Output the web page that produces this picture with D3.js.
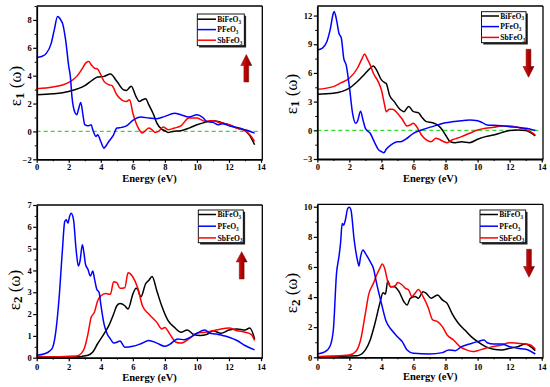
<!DOCTYPE html>
<html><head><meta charset="utf-8">
<script src="https://cdn.jsdelivr.net/npm/d3@7/dist/d3.min.js"></script>
<style>
html,body{margin:0;padding:0;background:#fff;}
svg text{font-family:"Liberation Serif","Times New Roman",serif;}
</style>
</head><body>
<svg id="chart" width="550" height="387"></svg>
<script>
// ---------- DATA ----------
const seriesNames = ["BiFeO", "PFeO", "SbFeO"];
const seriesColors = ["#000000", "#0000ff", "#ff0000"];
const energyTicks = [0, 2, 4, 6, 8, 10, 12, 14];

// Panel 1: eps1 (up arrow)
const eps1UpBi = [[0,2.63],[1,2.7],[2,2.87],[3,3.28],[3.5,3.7],[3.8,3.9],[4.2,3.95],[4.6,4.12],[5,3.6],[5.4,3.0],[5.6,2.94],[5.9,3.25],[6.2,2.5],[6.4,2.15],[6.6,2.27],[6.8,2.35],[7.0,1.9],[7.3,1.2],[7.5,0.6],[7.8,0.17],[8.0,0.05],[8.2,-0.07],[8.5,0],[9,0.05],[9.5,0.24],[10,0.48],[10.5,0.65],[11,0.77],[11.5,0.65],[12,0.48],[12.5,0.24],[13,0.05],[13.3,-0.3],[13.6,-0.96]];
const eps1UpP = [[0,5.31],[0.3,5.38],[0.6,5.6],[0.9,6.3],[1.1,7.3],[1.3,8.25],[1.45,8.1],[1.55,7.9],[1.6,7.8],[1.8,6.6],[2.0,4.67],[2.1,3.95],[2.2,2.5],[2.4,1.32],[2.5,1.2],[2.6,1.55],[2.75,2.08],[2.9,1.08],[3.0,0.48],[3.2,0.4],[3.4,0.48],[3.5,0.12],[3.7,-0.36],[3.8,-0.24],[4.0,-0.72],[4.2,-1.2],[4.3,-1.08],[4.5,-0.72],[4.8,-0.24],[5.0,0.24],[5.3,0.29],[5.6,0.4],[6.0,0.79],[6.5,1.03],[7,0.96],[7.5,0.91],[8,1.08],[8.6,1.3],[9,1.2],[9.5,1.03],[10,1.2],[10.4,0.96],[10.6,0.72],[11,0.65],[11.3,0.48],[11.6,0.55],[12,0.4],[12.5,0.29],[13,0.12],[13.6,-0.12]];
const eps1UpSb = [[0,3.06],[1,3.18],[2,3.52],[2.5,3.95],[2.8,4.43],[3.1,4.95],[3.25,5.02],[3.4,4.78],[3.6,4.55],[3.8,4.47],[4.0,4.07],[4.2,3.59],[4.5,3.35],[4.7,3.28],[5.0,2.63],[5.3,2.27],[5.6,2.15],[5.8,2.27],[6.0,1.32],[6.2,0.6],[6.4,0.12],[6.6,-0.12],[6.8,0.07],[7.0,0.24],[7.2,0.12],[7.4,-0.07],[7.6,0],[7.9,0.31],[8.2,0.12],[8.6,0.24],[9.0,0.4],[9.5,0.96],[10,0.96],[10.5,0.72],[11,0.77],[11.5,0.6],[12,0.48],[12.5,0.24],[13,0.05],[13.3,-0.24],[13.6,-0.72]];

// Panel 2: eps1 (down arrow)
const eps1DownBi = [[0,3.77],[1,3.87],[2,4.4],[2.5,5.1],[3,5.96],[3.3,6.49],[3.5,6.73],[3.7,6.3],[4.0,5.27],[4.2,4.99],[4.3,4.9],[4.5,3.7],[4.8,3.0],[5.2,2.13],[5.4,1.95],[5.7,2.5],[6.0,1.95],[6.3,1.85],[6.5,1.43],[6.8,0.91],[7.2,0.8],[7.5,0.56],[7.8,0.03],[8.0,-0.49],[8.3,-1.19],[8.6,-1.29],[9,-1.19],[9.5,-1.29],[10,-0.94],[10.5,-0.66],[11,-0.49],[11.5,-0.24],[12,-0.03],[12.5,0.03],[13,-0.03],[13.3,-0.24],[13.6,-0.59]];
const eps1DownP = [[0,8.41],[0.3,8.58],[0.6,9.28],[0.8,10.5],[1.0,12.24],[1.05,12.42],[1.2,11.55],[1.35,10.15],[1.5,9.63],[1.65,7.53],[1.8,6.84],[2.0,4.57],[2.2,1.78],[2.4,0.73],[2.5,0.91],[2.7,2.0],[2.85,1.08],[3.0,0.21],[3.3,-0.31],[3.6,-1.36],[3.8,-1.99],[4.0,-2.23],[4.15,-2.34],[4.3,-1.99],[4.6,-1.53],[5.0,-1.19],[5.2,-1.19],[5.5,-0.94],[6.0,-0.31],[6.5,0.03],[7,0.31],[7.5,0.56],[8,0.8],[8.5,0.91],[9,1.01],[9.5,1.08],[10,1.01],[10.3,0.8],[10.6,0.56],[11,0.52],[11.5,0.49],[12,0.38],[12.5,0.31],[13,0.21],[13.6,-0.03]];
const eps1DownSb = [[0,4.29],[1,4.57],[1.5,4.99],[2.0,5.44],[2.5,6.49],[2.8,7.53],[2.95,7.99],[3.1,7.53],[3.3,6.84],[3.5,5.96],[3.8,5.09],[4.0,4.22],[4.2,2.65],[4.3,1.95],[4.5,2.2],[4.7,2.2],[5.0,1.78],[5.3,1.15],[5.6,0.45],[5.8,0.56],[6.0,0.73],[6.2,0.38],[6.5,-0.49],[6.8,-1.01],[7.1,-1.19],[7.4,-0.84],[7.6,-0.94],[7.9,-1.19],[8.1,-1.29],[8.4,-1.01],[8.7,-0.84],[9.0,-0.66],[9.5,-0.31],[10,0.03],[10.5,0.21],[11,0.31],[11.5,0.45],[12,0.45],[12.5,0.31],[13,0.1],[13.3,-0.14],[13.6,-0.49]];

// Panel 3: eps2 (up arrow)
const eps2UpBi = [[0,0.03],[2,0.03],[2.8,0.06],[3.2,0.11],[3.5,0.26],[3.8,0.64],[4.2,1.09],[4.5,1.47],[4.8,2.0],[5.0,2.38],[5.2,2.48],[5.5,2.38],[5.7,2.23],[6.0,2.91],[6.2,3.18],[6.3,3.14],[6.5,2.79],[6.8,3.39],[7.0,3.55],[7.2,3.72],[7.5,3.06],[7.8,2.38],[8.2,1.7],[8.6,1.39],[9.0,1.17],[9.4,1.27],[9.8,1.06],[10.2,1.02],[10.6,1.06],[11,1.24],[11.5,1.12],[12,1.27],[12.5,1.32],[13,1.27],[13.3,1.36],[13.6,0.86]];
const eps2UpP = [[0,0.11],[0.5,0.18],[0.8,0.3],[1.0,0.48],[1.2,1.24],[1.4,2.76],[1.6,4.88],[1.75,6.24],[1.85,6.32],[1.95,6.17],[2.05,6.47],[2.15,6.62],[2.3,6.32],[2.45,5.03],[2.6,4.2],[2.7,4.42],[2.85,5.18],[2.95,4.8],[3.05,4.27],[3.2,4.05],[3.35,3.74],[3.5,3.97],[3.6,3.64],[3.75,3.14],[3.9,2.98],[4.0,2.45],[4.2,1.55],[4.4,1.09],[4.6,0.86],[4.8,0.67],[5.0,0.71],[5.2,0.76],[5.5,0.48],[6,0.52],[6.5,0.64],[7,0.79],[7.5,0.67],[8,0.52],[8.3,0.61],[8.8,0.86],[9.2,0.82],[9.6,0.94],[10,1.12],[10.5,1.27],[10.8,1.12],[11.2,1.09],[11.6,1.02],[12,0.94],[12.5,0.79],[13,0.56],[13.6,0.36]];
const eps2UpSb = [[0,0.03],[2.5,0.08],[2.8,0.21],[3.0,0.48],[3.2,1.09],[3.4,1.85],[3.6,2.08],[3.8,2.6],[4.0,2.83],[4.3,2.94],[4.6,2.91],[4.8,3.48],[5.0,3.44],[5.2,3.18],[5.5,3.21],[5.7,3.89],[6.0,3.7],[6.3,3.21],[6.6,2.38],[7.0,2.0],[7.5,1.62],[7.8,1.32],[8.0,1.39],[8.3,1.09],[8.7,0.71],[9.0,0.67],[9.5,0.86],[10,1.12],[10.5,1.17],[11,1.24],[11.5,1.32],[12,1.36],[12.5,1.24],[13,1.17],[13.4,1.06],[13.6,0.79]];

// Panel 4: eps2 (down arrow)
const eps2DownBi = [[0,0.04],[2.5,0.11],[3.0,0.49],[3.3,1.15],[3.6,2.26],[3.9,3.58],[4.1,4.29],[4.25,4.2],[4.4,5.09],[4.55,4.69],[4.8,4.69],[5.1,4.36],[5.4,3.69],[5.6,3.47],[5.8,3.92],[6.1,4.03],[6.3,3.92],[6.6,4.36],[6.8,4.25],[7.1,3.92],[7.5,4.14],[7.8,3.81],[8.1,3.58],[8.4,2.92],[8.8,2.26],[9.2,1.81],[9.6,1.37],[10,1.04],[10.5,0.71],[11,0.53],[11.5,0.49],[12,0.6],[12.5,0.71],[13,0.88],[13.3,0.71],[13.6,0.44]];
const eps2DownP = [[0,0.22],[0.5,0.38],[0.8,0.75],[1.0,1.81],[1.2,5.58],[1.35,6.68],[1.45,7.57],[1.55,8.89],[1.65,8.78],[1.75,9.12],[1.9,9.89],[2.0,9.96],[2.1,9.78],[2.3,7.79],[2.5,6.46],[2.6,6.06],[2.7,6.68],[2.85,7.12],[3.0,6.9],[3.3,6.35],[3.5,5.91],[3.7,4.91],[4.0,3.58],[4.3,2.37],[4.6,1.86],[4.9,1.48],[5.1,1.26],[5.3,1.04],[5.6,0.49],[6,0.27],[7,0.22],[7.8,0.31],[8.2,0.49],[8.6,0.44],[9,0.71],[9.5,0.88],[10,1.04],[10.4,1.15],[10.6,0.97],[11,0.88],[11.5,0.88],[12,0.71],[12.5,0.6],[13,0.53],[13.6,0.22]];
const eps2DownSb = [[0,0.04],[2.0,0.15],[2.4,0.38],[2.7,1.15],[3.0,2.92],[3.2,4.14],[3.5,4.91],[3.7,5.46],[3.9,5.91],[4.05,6.19],[4.2,5.91],[4.4,5.02],[4.6,4.69],[4.9,4.8],[5.0,4.96],[5.3,4.8],[5.5,4.58],[5.7,4.47],[5.9,4.03],[6.1,4.25],[6.3,4.51],[6.6,4.03],[6.9,3.36],[7.2,2.48],[7.5,2.37],[7.8,2.04],[8.1,1.48],[8.5,1.15],[8.9,0.71],[9.3,0.49],[9.7,0.38],[10,0.44],[10.5,0.6],[11,0.71],[11.5,0.82],[12,0.97],[12.5,0.93],[13,0.88],[13.3,0.82],[13.6,0.53]];

const yTicks1 = [-2, 0, 2, 4, 6, 8];
const yTicks2 = [-3, 0, 3, 6, 9, 12];
const yTicks3 = [0, 1, 2, 3, 4, 5, 6, 7];
const yTicks4 = [0, 2, 4, 6, 8, 10];

// ---------- LAYOUT ----------
const panels = [
  {series:[eps1UpBi, eps1UpP, eps1UpSb], yDomain:[-2, 9], yTicks:yTicks1, yMinorStep:1,
   x0:36.7, x1:262.3, y0:6, y1:159.3, sub:"1", labelX:17, labelY:86, zero:true,
   arrow:{dir:"up", cx:246.3, top:54.5, headBase:65.5, bottom:82},
   legend:{x:197.3, y:14, w:47, h:31.7, rows:[19.2,29.6,40.2], lineEnd:216, textX:217.3},
   xLabelY:182, xTickY:170},
  {series:[eps1DownBi, eps1DownP, eps1DownSb], yDomain:[-3, 13], yTicks:yTicks2, yMinorStep:1.5,
   x0:317.3, x1:543, y0:6, y1:159, sub:"1", labelX:292.5, labelY:94, zero:true,
   arrow:{dir:"down", cx:528.5, top:49.3, headBase:66.5, bottom:77.3},
   legend:{x:481.5, y:11.7, w:44.5, h:31, rows:[16,26.6,37.4], lineEnd:499, textX:500.3},
   xLabelY:182, xTickY:170},
  {series:[eps2UpBi, eps2UpP, eps2UpSb], yDomain:[0, 7], yTicks:yTicks3, yMinorStep:0.5,
   x0:36.7, x1:262.3, y0:205, y1:357.7, sub:"2", labelX:15.5, labelY:290, zero:false,
   arrow:{dir:"up", cx:241.7, top:251.7, headBase:262, bottom:279},
   legend:{x:198.3, y:210, w:45, h:32.7, rows:[214.5,226.2,237.9], lineEnd:216, textX:217.5},
   xLabelY:381, xTickY:369.5},
  {series:[eps2DownBi, eps2DownP, eps2DownSb], yDomain:[0, 10.16], yTicks:yTicks4, yMinorStep:1,
   x0:317.3, x1:543, y0:204.3, y1:357.3, sub:"2", labelX:293, labelY:293, zero:false,
   arrow:{dir:"down", cx:529, top:249.3, headBase:266.5, bottom:277.3},
   legend:{x:480, y:210, w:45.7, h:32.7, rows:[214.5,226.2,237.9], lineEnd:498, textX:499.3},
   xLabelY:380, xTickY:369.5}
];

const svg = d3.select("#chart");
const defs = svg.append("defs");
const grad = defs.append("linearGradient").attr("id","arrowGrad")
  .attr("x1","0%").attr("x2","100%").attr("y1","0%").attr("y2","0%");
grad.append("stop").attr("offset","0%").attr("stop-color","#e01818");
grad.append("stop").attr("offset","55%").attr("stop-color","#b00000");
grad.append("stop").attr("offset","100%").attr("stop-color","#6a0000");

panels.forEach(p => {
  const x = d3.scaleLinear().domain([0, 14.08]).range([p.x0, p.x1]);
  const y = d3.scaleLinear().domain(p.yDomain).range([p.y1, p.y0]);
  const g = svg.append("g");

  // frame top/right
  g.append("line").attr("x1", p.x0).attr("x2", p.x1).attr("y1", p.y0).attr("y2", p.y0)
    .attr("stroke","#000").attr("stroke-width",1.3);
  g.append("line").attr("x1", p.x1).attr("x2", p.x1).attr("y1", p.y0).attr("y2", p.y1)
    .attr("stroke","#000").attr("stroke-width",1.3);

  // zero line
  if (p.zero) {
    g.append("line").attr("x1", x(0)).attr("x2", x(13.8)).attr("y1", y(0)).attr("y2", y(0))
      .attr("stroke","#33dd33").attr("stroke-width",1.2).attr("stroke-dasharray","4,3");
  }

  // data lines
  const line = d3.line().x(d => x(d[0])).y(d => y(d[1])).curve(d3.curveMonotoneX);
  const order = [0, 2, 1];
  order.forEach(i => {
    g.append("path").datum(p.series[i]).attr("d", line)
      .attr("fill","none").attr("stroke", seriesColors[i]).attr("stroke-width",1.5)
      .attr("stroke-linejoin","round");
  });

  // x axis minor
  const xMinor = d3.range(1, 14, 2);
  g.append("g").attr("transform",`translate(0,${p.y1})`)
    .call(d3.axisBottom(x).tickValues(xMinor).tickSize(2).tickFormat(""))
    .call(a => a.select(".domain").remove())
    .selectAll("line").attr("stroke-width",1);
  // x axis major
  const xa = g.append("g").attr("transform",`translate(0,${p.y1})`)
    .call(d3.axisBottom(x).tickValues(energyTicks).tickSize(3.5).tickSizeOuter(0).tickFormat(d3.format("d")));
  xa.select(".domain").attr("stroke-width",1.8);
  xa.selectAll(".tick line").attr("stroke-width",1.2);
  xa.selectAll("text").attr("font-size","8.5px").attr("font-weight","bold")
    .attr("font-family","Liberation Serif, serif").attr("y", null).attr("dy", null)
    .attr("transform", `translate(0,${p.xTickY - p.y1})`);

  // y axis minor
  const yMinor = [];
  for (let v = p.yTicks[0]; v <= p.yDomain[1] + 1e-9; v += p.yMinorStep) {
    if (!p.yTicks.some(t => Math.abs(t - v) < 1e-9)) yMinor.push(v);
  }
  g.append("g").attr("transform",`translate(${p.x0},0)`)
    .call(d3.axisLeft(y).tickValues(yMinor).tickSize(2).tickFormat(""))
    .call(a => a.select(".domain").remove())
    .selectAll("line").attr("stroke-width",1);
  const ya = g.append("g").attr("transform",`translate(${p.x0},0)`)
    .call(d3.axisLeft(y).tickValues(p.yTicks).tickSize(3.5).tickSizeOuter(0).tickFormat(d3.format("d")));
  ya.select(".domain").attr("stroke-width",1.8);
  ya.selectAll(".tick line").attr("stroke-width",1.2);
  ya.selectAll("text").attr("font-size","8.5px").attr("font-weight","bold")
    .attr("font-family","Liberation Serif, serif").attr("x", -5);

  // x label
  g.append("text").attr("x", (p.x0 + p.x1) / 2).attr("y", p.xLabelY)
    .attr("text-anchor","middle").attr("font-size","10.5px").attr("font-weight","bold")
    .text("Energy (eV)");

  // y label
  const yl = g.append("text").attr("transform",`translate(${p.labelX},${p.labelY}) rotate(-90)`)
    .attr("text-anchor","middle").attr("dominant-baseline","middle").attr("font-size","17px");
  yl.append("tspan").text("ε");
  yl.append("tspan").attr("font-size","13px").attr("font-weight","bold").attr("dy","3.5").text(p.sub);
  yl.append("tspan").attr("dy","-3.5").text(" (ω)");

  // legend
  const L = p.legend;
  g.append("rect").attr("x", L.x + 1.8).attr("y", L.y + 1.8).attr("width", L.w).attr("height", L.h)
    .attr("fill","#222");
  g.append("rect").attr("x", L.x).attr("y", L.y).attr("width", L.w).attr("height", L.h)
    .attr("fill","#fff").attr("stroke","#000").attr("stroke-width",0.9);
  seriesNames.forEach((name, i) => {
    g.append("line").attr("x1", L.x).attr("x2", L.lineEnd).attr("y1", L.rows[i]).attr("y2", L.rows[i])
      .attr("stroke", seriesColors[i]).attr("stroke-width",1.5);
    const t = g.append("text").attr("x", L.textX).attr("y", L.rows[i] + 2.7)
      .attr("font-size","7.6px").attr("font-weight","bold");
    t.append("tspan").text(name);
    t.append("tspan").attr("font-size","5.2px").attr("dy","1.7").text("3");
  });

  // arrow
  const A = p.arrow, hw = 5.5, sw = 2.4;
  let pts;
  if (A.dir === "up") {
    pts = [[A.cx, A.top],[A.cx+hw, A.headBase],[A.cx+sw, A.headBase],[A.cx+sw, A.bottom],
           [A.cx-sw, A.bottom],[A.cx-sw, A.headBase],[A.cx-hw, A.headBase]];
  } else {
    pts = [[A.cx-sw, A.top],[A.cx+sw, A.top],[A.cx+sw, A.headBase],[A.cx+hw, A.headBase],
           [A.cx, A.bottom],[A.cx-hw, A.headBase],[A.cx-sw, A.headBase]];
  }
  g.append("path").attr("d", d3.line()(pts) + "Z").attr("fill","url(#arrowGrad)")
    .attr("stroke","#7a0000").attr("stroke-width",0.5);
});
</script>
</body></html>
